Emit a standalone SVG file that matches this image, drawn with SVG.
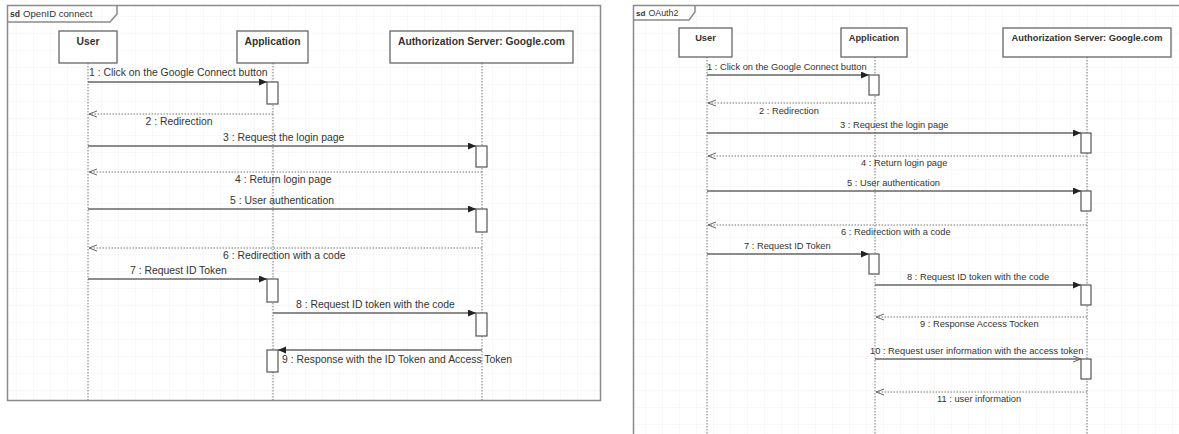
<svg xmlns="http://www.w3.org/2000/svg" width="1179" height="434" viewBox="0 0 1179 434">
<style>
text{font-family:"Liberation Sans",Arial,sans-serif;fill:#333}
.lbl{font-size:10.4px}
.lblr{font-size:9.3px}
.hd{font-size:10.3px;font-weight:bold;text-anchor:middle}
.hdr{font-size:9.3px;font-weight:bold;text-anchor:middle}
.frame{fill:none;stroke:#8a8a8a;stroke-width:1.5}
.box{fill:#fff;stroke:#666;stroke-width:1.3}
.act{fill:#fff;stroke:#555;stroke-width:1.2}
.life{stroke:#777;stroke-width:1;stroke-dasharray:1.5 1.5;fill:none}
.msg{stroke:#666;stroke-width:1.4;fill:none}
.ret{stroke:#777;stroke-width:1;stroke-dasharray:1.5 1.5;fill:none}
</style>
<defs>
<pattern id="grid" width="17" height="17" patternUnits="userSpaceOnUse">
<path d="M17,0 V17 M0,17 H17" fill="none" stroke="#ececec" stroke-width="0.8"/>
</pattern>
<marker id="fill" markerWidth="9" markerHeight="8" refX="8" refY="3.5" orient="auto" markerUnits="userSpaceOnUse">
<path d="M0,0 L8,3.5 L0,7 z" fill="#222"/>
</marker>
<marker id="open" markerWidth="9" markerHeight="8" refX="8" refY="3.5" orient="auto" markerUnits="userSpaceOnUse">
<path d="M0,0.5 L8,3.5 L0,6.5" fill="none" stroke="#666" stroke-width="1"/>
</marker>
</defs>
<rect width="1179" height="434" fill="#fff"/>

<!-- Left diagram: OpenID connect -->
<g id="frame-openid">
<rect x="7.5" y="5.5" width="593" height="395" fill="url(#grid)"/>
<rect x="7.5" y="5.5" width="593" height="395" class="frame"/>
<path d="M7.5,22 H110 L117,14 V5.5" class="frame"/>
<text x="10" y="17" style="font-size:8.5px;font-weight:bold">sd</text>
<text x="23" y="17" style="font-size:9.6px">OpenID connect</text>
</g>
<g id="lifelines-openid">
<path d="M88,63 V400 M273,63 V400 M482,63 V400" class="life"/>
</g>
<g id="user-openid">
<rect x="59" y="31" width="58" height="32" class="box"/>
<text x="88" y="45" class="hd">User</text>
</g>
<g id="app-openid">
<rect x="237" y="31" width="71" height="32" class="box"/>
<text x="272.5" y="45" class="hd">Application</text>
</g>
<g id="auth-openid">
<rect x="390" y="31" width="183" height="32" class="box"/>
<text x="481.5" y="45" class="hd">Authorization Server: Google.com</text>
</g>
<g id="activations-openid">
<rect x="267" y="82" width="11" height="22" class="act"/>
<rect x="476" y="146" width="11" height="21" class="act"/>
<rect x="476" y="209" width="11" height="23" class="act"/>
<rect x="267" y="279" width="11" height="23" class="act"/>
<rect x="476" y="313" width="11" height="23" class="act"/>
<rect x="267" y="350" width="11" height="22" class="act"/>
</g>
<g id="connectors-openid">
<path d="M88,82 H267" class="msg" marker-end="url(#fill)"/>
<path d="M273,114 H89" class="ret" marker-end="url(#open)"/>
<path d="M88,146 H476" class="msg" marker-end="url(#fill)"/>
<path d="M482,172 H89" class="ret" marker-end="url(#open)"/>
<path d="M88,209 H476" class="msg" marker-end="url(#fill)"/>
<path d="M482,248 H89" class="ret" marker-end="url(#open)"/>
<path d="M88,279 H267" class="msg" marker-end="url(#fill)"/>
<path d="M273,313 H476" class="msg" marker-end="url(#fill)"/>
<path d="M482,350 H278" class="msg" marker-end="url(#fill)"/>
</g>
<g id="labels-openid">
<text x="89" y="76" class="lbl">1 : Click on the Google Connect button</text>
<text x="179" y="125" class="lbl" text-anchor="middle">2 : Redirection</text>
<text x="223" y="141" class="lbl">3 : Request the login page</text>
<text x="235" y="183" class="lbl">4 : Return login page</text>
<text x="230" y="204" class="lbl">5 : User authentication</text>
<text x="223" y="259" class="lbl">6 : Redirection with a code</text>
<text x="130" y="274" class="lbl">7 : Request ID Token</text>
<text x="296" y="308" class="lbl">8 : Request ID token with the code</text>
<text x="282" y="363" class="lbl">9 : Response with the ID Token and Access Token</text>
</g>

<!-- Right diagram: OAuth2 -->
<g id="frame-oauth2">
<rect x="633.5" y="5.5" width="546" height="430" fill="url(#grid)"/>
<path d="M633.5,434 V5.5 H1179" class="frame"/>
<path d="M633.5,20 H689 L695,12 V5.5" class="frame"/>
<text x="636" y="16" style="font-size:8px;font-weight:bold">sd</text>
<text x="648.5" y="16" style="font-size:8.8px">OAuth2</text>
</g>
<g id="lifelines-oauth2">
<path d="M707,57 V434 M875,57 V434 M1087,57 V434" class="life"/>
</g>
<g id="user-oauth2">
<rect x="679" y="28" width="53" height="29" class="box"/>
<text x="705.5" y="41" class="hdr">User</text>
</g>
<g id="app-oauth2">
<rect x="841" y="28" width="66" height="29" class="box"/>
<text x="874" y="41" class="hdr">Application</text>
</g>
<g id="auth-oauth2">
<rect x="1003" y="28" width="168" height="29" class="box"/>
<text x="1087" y="41" class="hdr">Authorization Server: Google.com</text>
</g>
<g id="activations-oauth2">
<rect x="869" y="75" width="10" height="20" class="act"/>
<rect x="1081" y="133" width="10" height="20" class="act"/>
<rect x="1081" y="191" width="10" height="20" class="act"/>
<rect x="869" y="254" width="10" height="20" class="act"/>
<rect x="1081" y="285" width="10" height="20" class="act"/>
<rect x="1081" y="359" width="10" height="20" class="act"/>
</g>
<g id="connectors-oauth2">
<path d="M707,75 H869" class="msg" marker-end="url(#fill)"/>
<path d="M875,103 H708" class="ret" marker-end="url(#open)"/>
<path d="M707,133 H1081" class="msg" marker-end="url(#fill)"/>
<path d="M1087,156 H708" class="ret" marker-end="url(#open)"/>
<path d="M707,191 H1081" class="msg" marker-end="url(#fill)"/>
<path d="M1087,225 H708" class="ret" marker-end="url(#open)"/>
<path d="M707,254 H869" class="msg" marker-end="url(#fill)"/>
<path d="M875,285 H1081" class="msg" marker-end="url(#fill)"/>
<path d="M1087,317 H876" class="ret" marker-end="url(#open)"/>
<path d="M875,359 H1081" class="msg" marker-end="url(#open)"/>
<path d="M1087,392 H876" class="ret" marker-end="url(#open)"/>
</g>
<g id="labels-oauth2">
<text x="707" y="70" class="lblr">1 : Click on the Google Connect button</text>
<text x="789" y="114" class="lblr" text-anchor="middle">2 : Redirection</text>
<text x="840" y="128" class="lblr">3 : Request the login page</text>
<text x="861" y="166" class="lblr">4 : Return login page</text>
<text x="847" y="186" class="lblr">5 : User authentication</text>
<text x="841" y="235" class="lblr">6 : Redirection with a code</text>
<text x="744" y="249" class="lblr">7 : Request ID Token</text>
<text x="907" y="280" class="lblr">8 : Request ID token with the code</text>
<text x="920" y="327" class="lblr">9 : Response Access Tocken</text>
<text x="870" y="354" class="lblr">10 : Request user information with the access token</text>
<text x="937" y="402" class="lblr">11 : user information</text>
</g>
</svg>
